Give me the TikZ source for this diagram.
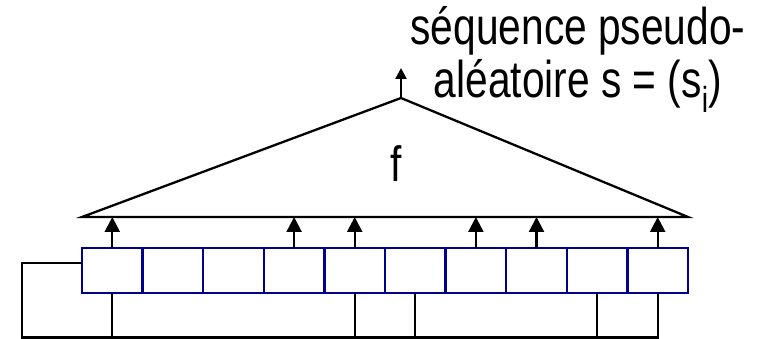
\documentclass[tikz,border=0pt]{standalone}
\usepackage{fontspec}
\setmainfont{Liberation Sans}
\usepackage{graphicx}
\usetikzlibrary{arrows.meta}
\definecolor{regblue}{RGB}{0,0,140}
\begin{document}
\begin{tikzpicture}[x=1pt,y=-1pt,
  wire/.style={line width=2.3pt,black},
  cell/.style={draw=regblue,line width=2.3pt,minimum width=60.6pt,minimum height=45pt,inner sep=0pt,outer sep=0pt},
  tap/.style={wire,-{Triangle[length=15pt,width=15pt]}},
  lbl/.style={inner sep=0pt}]
\useasboundingbox (0,0) rectangle (758,339);
% register cells
\foreach \i in {1,...,10}{
  \node[cell] (c\i) at ({82+60.6*(\i-0.5)},270.5) {};
}
% triangle f
\coordinate (apex) at (401,98);
\coordinate (bl) at (82,217);
\coordinate (br) at (688,217);
\draw[wire,line join=miter] (bl) -- (apex) -- (br) -- cycle;
\node[lbl,anchor=base] (f) at (396,182) {\scalebox{1}[1.22]{\fontsize{40.7}{48}\selectfont f}};
% output arrow
\coordinate (out) at (401,68);
\draw[wire,-{Triangle[length=11pt,width=11pt]}] (apex) -- (out);
\node[lbl] (txt) at (578,59.5) {\scalebox{1}[1.27]{\fontsize{40.7}{37.8}\selectfont\begin{tabular}{@{}c@{}}séquence pseudo-\\aléatoire s = (s\textsubscript{i})\end{tabular}}};
% taps up
\foreach \i in {1,4,5,7,8,10}{
  \draw[tap] (c\i.north) -- (c\i.north |- bl);
}
% feedback
\coordinate (lc) at (22,263);
\coordinate (lb) at (22,337.5);
\draw[wire] (c1.west |- lc) -- (lc) -- (lb) -- (c10.south |- lb) -- (c10.south);
\foreach \i in {1,5,6,9}{
  \draw[wire] (c\i.south) -- (c\i.south |- lb);
}
\end{tikzpicture}
\end{document}
